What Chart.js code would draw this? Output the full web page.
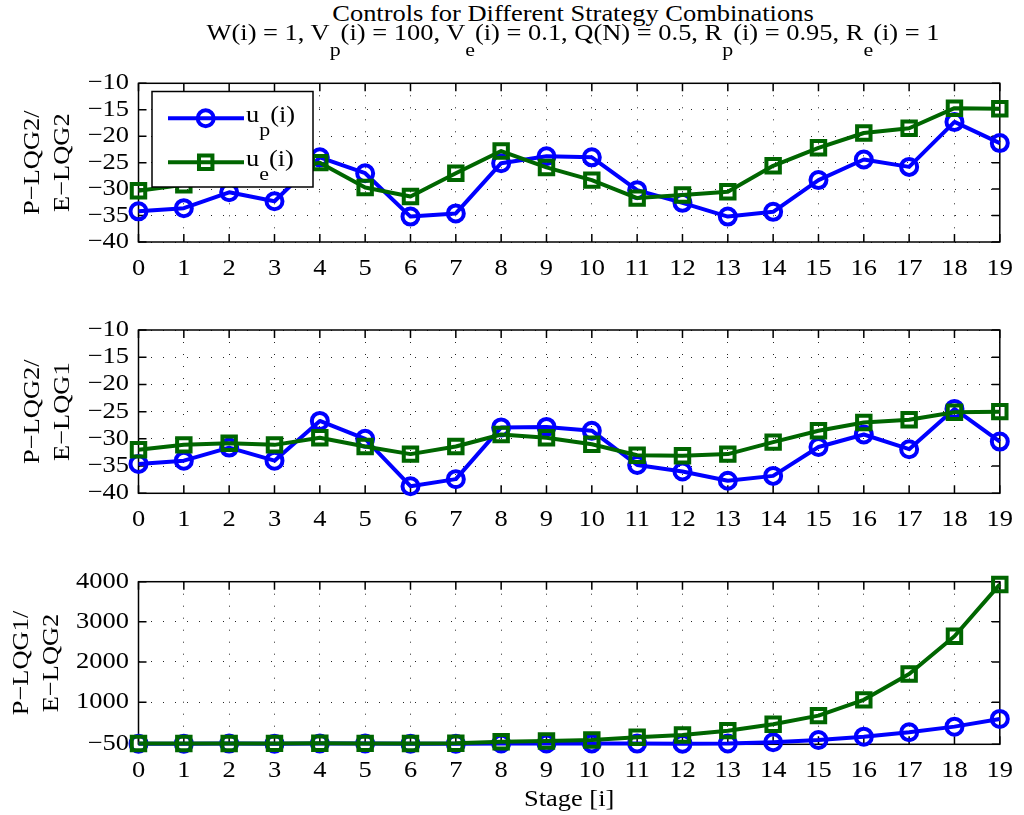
<!DOCTYPE html>
<html>
<head>
<meta charset="utf-8">
<script src="https://cdn.jsdelivr.net/npm/chart.js@4.4.1/dist/chart.umd.min.js"></script>
<style>
  html, body { margin: 0; padding: 0; background: #fff; overflow: hidden; }
  #wrap { position: relative; width: 1024px; height: 815px; }
  #wrap canvas { position: absolute; left: 0; }
  .title {
    position: absolute; left: 173px; width: 800px; text-align: center; white-space: nowrap;
    font-family: "Liberation Serif", "Times New Roman", serif; font-size: 23px; line-height: 23px;
    color: #000; transform: scaleX(1.15); transform-origin: 50% 0;
  }
  .title .sub { position: relative; top: 16px; font-size: 19px; }
</style>
</head>
<body>
<div id="wrap">
  <div class="title" style="top:1.5px">Controls for Different Strategy Combinations</div>
  <div class="title" style="top:21px">W(i) = 1, V<span class="sub">p</span>(i) = 100, V<span class="sub">e</span>(i) = 0.1, Q(N) = 0.5, R<span class="sub">p</span>(i) = 0.95, R<span class="sub">e</span>(i) = 1</div>
  <canvas id="c1" width="1024" height="240" style="top:60px"></canvas>
  <canvas id="c2" width="1024" height="250" style="top:300px"></canvas>
  <canvas id="c3" width="1024" height="265" style="top:550px"></canvas>
</div>
<script>
// Stage labels along the horizontal axis
const stages = ['0','1','2','3','4','5','6','7','8','9','10','11','12','13','14','15','16','17','18','19'];

// Pursuer / evader controls, P-LQG2 vs E-LQG2
const upLqg2Lqg2 = [-34.2, -33.6, -30.6, -32.3, -24.0, -27.0, -35.2, -34.6, -25.1, -23.8,
                    -24.0, -30.2, -32.6, -35.2, -34.3, -28.3, -24.4, -25.8, -17.3, -21.3];
const ueLqg2Lqg2 = [-30.3, -29.2, -28.0, -26.8, -25.0, -29.7, -31.4, -27.0, -22.8, -25.9,
                    -28.3, -31.7, -31.1, -30.5, -25.6, -22.2, -19.4, -18.5, -14.7, -14.8];

// Pursuer / evader controls, P-LQG2 vs E-LQG1
const upLqg2Lqg1 = [-34.6, -34.0, -31.6, -34.0, -26.7, -30.0, -38.7, -37.4, -27.9, -27.8,
                    -28.5, -34.8, -36.0, -37.7, -36.8, -31.5, -29.2, -31.9, -24.5, -30.5];
const ueLqg2Lqg1 = [-32.0, -31.1, -30.8, -31.1, -29.8, -31.4, -32.8, -31.4, -29.2, -29.8,
                    -31.0, -33.0, -33.1, -32.8, -30.6, -28.5, -27.0, -26.5, -25.1, -25.0];

// Pursuer / evader controls, P-LQG1 vs E-LQG2
const upLqg1Lqg2 = [-34, -34, -32, -34, -30, -31, -37, -36, -30, -28,
                    -28, -33, -34, -30, 2, 57, 140, 250, 390, 582];
const ueLqg1Lqg2 = [-30, -29, -28, -27, -25, -27, -28, -24, 15, 32,
                    57, 125, 182, 290, 450, 665, 1057, 1700, 2640, 3932];

// Tick values for the vertical axes
const yTicksSmall = [-40, -35, -30, -25, -20, -15, -10];
const yTicksLarge = [-50, 1000, 2000, 3000, 4000];

const BLUE = '#0000ff';
const GREEN = 'rgb(0,102,0)';
const FONT_FAMILY = '"Liberation Serif", "Times New Roman", serif';
const FONT_SIZE = 23;
const SUB_SIZE = 19;
const TEXT_STRETCH = 1.15;   // wide serif lettering
const TICK_LEN = 8;

// Draw all canvas text slightly widened along its baseline
function widenText(canvas) {
  const ctx = canvas.getContext('2d');
  const fill = ctx.fillText;
  ctx.fillText = function (text, x, y, maxWidth) {
    this.save();
    this.translate(x, y);
    this.scale(TEXT_STRETCH, 1);
    if (maxWidth === undefined) fill.call(this, text, 0, 0);
    else fill.call(this, text, 0, 0, maxWidth / TEXT_STRETCH);
    this.restore();
  };
}

function minusLabel(v) {
  return v < 0 ? '\u2212' + Math.abs(v) : String(v);
}

// Axes box with inward tick marks on all four sides
const framePlugin = {
  id: 'frame',
  beforeDatasetsDraw(chart) {
    const { ctx, chartArea: a, scales: { x, y } } = chart;
    ctx.save();
    ctx.strokeStyle = '#000';
    ctx.lineWidth = 1.5;
    ctx.beginPath();
    x.ticks.forEach((t, i) => {
      const px = x.getPixelForTick(i);
      ctx.moveTo(px, a.top); ctx.lineTo(px, a.top + TICK_LEN);
      ctx.moveTo(px, a.bottom); ctx.lineTo(px, a.bottom - TICK_LEN);
    });
    y.ticks.forEach((t) => {
      const py = y.getPixelForValue(t.value);
      ctx.moveTo(a.left, py); ctx.lineTo(a.left + TICK_LEN, py);
      ctx.moveTo(a.right, py); ctx.lineTo(a.right - TICK_LEN, py);
    });
    ctx.stroke();
    ctx.strokeRect(a.left, a.top, a.right - a.left, a.bottom - a.top);
    ctx.restore();
  }
};

// Legend box with subscripted entries, drawn inside the first panel
const legendPlugin = {
  id: 'boxLegend',
  afterDatasetsDraw(chart) {
    const ctx = chart.ctx;
    const box = { x: 152, y: 31.5, w: 161, h: 95.5 };
    ctx.save();
    ctx.fillStyle = '#fff';
    ctx.fillRect(box.x, box.y, box.w, box.h);
    ctx.strokeStyle = '#000';
    ctx.lineWidth = 1.5;
    ctx.strokeRect(box.x, box.y, box.w, box.h);
    const entries = [
      { ds: chart.data.datasets[0], main: 'u', sub: 'p', rest: '(i)', y: 58.3 },
      { ds: chart.data.datasets[1], main: 'u', sub: 'e', rest: '(i)', y: 102.3 }
    ];
    entries.forEach((e) => {
      const ds = e.ds;
      ctx.strokeStyle = ds.borderColor;
      ctx.lineWidth = ds.borderWidth;
      ctx.lineCap = 'butt';
      ctx.beginPath();
      ctx.moveTo(168, e.y); ctx.lineTo(244, e.y);
      ctx.stroke();
      ctx.lineWidth = ds.pointBorderWidth;
      ctx.beginPath();
      if (ds.pointStyle === 'circle') {
        ctx.arc(205.7, e.y, ds.pointRadius, 0, Math.PI * 2);
      } else {
        const s = ds.pointRadius * Math.SQRT1_2;
        ctx.rect(205.7 - s, e.y - s, 2 * s, 2 * s);
      }
      ctx.stroke();
      ctx.fillStyle = '#000';
      ctx.textBaseline = 'alphabetic';
      ctx.textAlign = 'left';
      const base = e.y + 3.5;
      let tx = 246;
      ctx.font = FONT_SIZE + 'px ' + FONT_FAMILY;
      ctx.fillText(e.main, tx, base);
      tx += ctx.measureText(e.main).width * TEXT_STRETCH;
      ctx.font = SUB_SIZE + 'px ' + FONT_FAMILY;
      ctx.fillText(e.sub, tx, base + 14);
      tx += ctx.measureText(e.sub).width * TEXT_STRETCH;
      ctx.font = FONT_SIZE + 'px ' + FONT_FAMILY;
      ctx.fillText(e.rest, tx, base);
    });
    ctx.restore();
  }
};

function makePanel(id, up, ue, yTicks, yTitle, layout) {
  const canvas = document.getElementById(id);
  widenText(canvas);
  const gridOpts = { color: 'rgba(0,0,0,0.85)', lineWidth: 1, drawTicks: false };
  const borderOpts = { display: false, dash: [1, 11] };
  const tickFont = { family: FONT_FAMILY, size: FONT_SIZE, lineHeight: 1.2 };
  return new Chart(canvas, {
    type: 'line',
    data: {
      labels: stages,
      datasets: [
        {
          label: 'u_p(i)', data: up, order: 2, clip: false,
          borderColor: BLUE, borderWidth: 4, borderJoinStyle: 'round', tension: 0,
          pointStyle: 'circle', pointRadius: 8, pointBorderWidth: 4,
          pointBorderColor: BLUE, pointBackgroundColor: 'rgba(0,0,0,0)'
        },
        {
          label: 'u_e(i)', data: ue, order: 1, clip: false,
          borderColor: GREEN, borderWidth: 4, borderJoinStyle: 'round', tension: 0,
          pointStyle: 'rect', pointRadius: 9.5, pointBorderWidth: 4,
          pointBorderColor: GREEN, pointBackgroundColor: 'rgba(0,0,0,0)'
        }
      ]
    },
    options: {
      responsive: false,
      animation: false,
      devicePixelRatio: 1,
      events: [],
      layout: { padding: { top: layout.padTop, right: 17.3, bottom: 0, left: 0 } },
      plugins: { legend: { display: false }, tooltip: { enabled: false }, title: { display: false } },
      scales: {
        x: {
          type: 'category',
          offset: false,
          grid: Object.assign({ offset: false }, gridOpts),
          border: borderOpts,
          ticks: { autoSkip: false, maxRotation: 0, minRotation: 0, padding: 12.7, color: '#000', font: tickFont },
          title: layout.xTitle
            ? { display: true, text: layout.xTitle, color: '#000', font: tickFont, padding: { top: 0, bottom: 1.2 } }
            : { display: false },
          afterFit: (s) => { s.height = layout.xHeight; }
        },
        y: {
          type: 'linear',
          min: yTicks[0],
          max: yTicks[yTicks.length - 1],
          afterBuildTicks: (s) => { s.ticks = yTicks.map((v) => ({ value: v })); },
          grid: gridOpts,
          border: borderOpts,
          ticks: { autoSkip: false, padding: 9.5, color: '#000', font: tickFont, callback: (v) => minusLabel(v) },
          title: {
            display: true, text: yTitle, color: '#000',
            font: { family: FONT_FAMILY, size: FONT_SIZE, lineHeight: 1.28 },
            padding: { top: layout.yTitlePad, bottom: 0 }
          },
          afterFit: (s) => { s.width = 138.5; }
        }
      }
    },
    plugins: layout.legend ? [framePlugin, legendPlugin] : [framePlugin]
  });
}

makePanel('c1', upLqg2Lqg2, ueLqg2Lqg2, yTicksSmall, ['P\u2212LQG2/', 'E\u2212LQG2'],
  { padTop: 19, xHeight: 58, yTitlePad: 18.3, legend: true });
makePanel('c2', upLqg2Lqg1, ueLqg2Lqg1, yTicksSmall, ['P\u2212LQG2/', 'E\u2212LQG1'],
  { padTop: 30, xHeight: 56.7, yTitlePad: 18.3 });
makePanel('c3', upLqg1Lqg2, ueLqg1Lqg2, yTicksLarge, ['P\u2212LQG1/', 'E\u2212LQG2'],
  { padTop: 31.7, xHeight: 70.7, yTitlePad: 7.3, xTitle: 'Stage [i]' });
</script>
</body>
</html>
